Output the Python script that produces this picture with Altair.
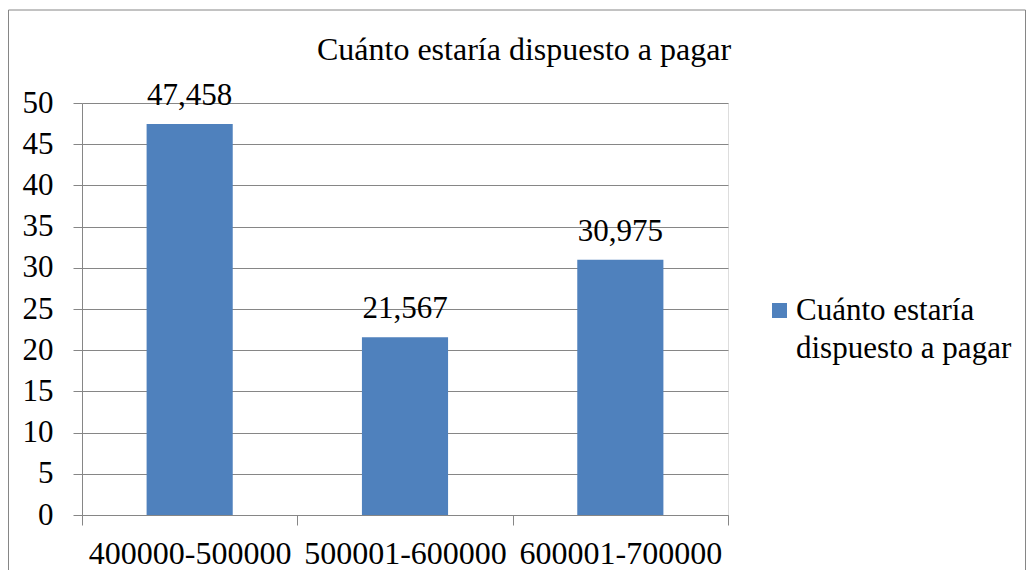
import altair as alt
import pandas as pd

CATEGORIES = ["400000-500000", "500001-600000", "600001-700000"]
VALUES = [47.458, 21.567, 30.975]
SERIES = "Cuánto estaría dispuesto a pagar"
TITLE = "Cuánto estaría dispuesto a pagar"
Y_TICKS = [0, 5, 10, 15, 20, 25, 30, 35, 40, 45, 50]
LEGEND_LINES = ["Cuánto estaría", "dispuesto a pagar"]

FONT = "Liberation Serif"
FS = 31
BLUE = "#4F81BD"
GRID = "#868686"

W, H = 646, 412

df = pd.DataFrame({"cat": CATEGORIES, "val": VALUES, "series": SERIES})

x = alt.X(
    "cat:N",
    sort=CATEGORIES,
    title=None,
    scale=alt.Scale(paddingInner=0, paddingOuter=0),
    axis=alt.Axis(
        labelAngle=0, labelFont=FONT, labelFontSize=32, labelColor="black",
        labelLimit=0, tickBand="extent", tickColor=GRID, tickSize=10,
        domainColor=GRID, labelPadding=13, grid=False,
    ),
)
y = alt.Y(
    "val:Q",
    title=None,
    scale=alt.Scale(domain=[0, 50], nice=False),
    axis=alt.Axis(
        values=Y_TICKS, labelFont=FONT, labelFontSize=FS, labelColor="black",
        tickColor=GRID, tickSize=9, domainColor=GRID, gridColor=GRID,
        gridOpacity=1, labelPadding=20,
    ),
)

base = alt.Chart(df)

bars = base.mark_bar(color=BLUE, width=alt.RelativeBandSize(0.4)).encode(x=x, y=y)

labels = base.transform_calculate(
    lab="replace(format(datum.val, '.3f'), '.', ',')"
).mark_text(
    font=FONT, fontSize=FS, color="black", baseline="alphabetic", dy=-19
).encode(x=alt.X("cat:N", sort=CATEGORIES), y="val:Q", text="lab:N")

one = alt.Data(values=[{"t": TITLE}])

border = alt.Chart(one).mark_rect(fill=None, stroke=GRID, strokeWidth=1).encode(
    x=alt.value(-73.5), x2=alt.value(943.5), y=alt.value(-93), y2=alt.value(520)
)

title = alt.Chart(one).mark_text(
    font=FONT, fontSize=32, color="black", baseline="alphabetic", align="center"
).encode(x=alt.value(442), y=alt.value(-43), text="t:N")

leg_sq = alt.Chart(alt.Data(values=[{"s": SERIES}])).mark_square(
    size=225, color=BLUE, opacity=1
).encode(x=alt.value(697.5), y=alt.value(207.5))

leg_txt = alt.Chart(alt.Data(values=[{"s": SERIES}])).mark_text(
    font=FONT, fontSize=FS, color="black", baseline="alphabetic", align="left",
    lineHeight=38,
).encode(x=alt.value(714), y=alt.value(217), text=alt.value(LEGEND_LINES))

chart = alt.layer(border, bars, labels, title, leg_sq, leg_txt).properties(
    width=W,
    height=H,
    padding={"left": 74, "top": 95, "right": 298, "bottom": 55},
    autosize=alt.AutoSizeParams(type="none"),
).configure_view(stroke=None).configure(background="white")

chart.save("out.html", embed_options={"renderer": "svg", "actions": False})
